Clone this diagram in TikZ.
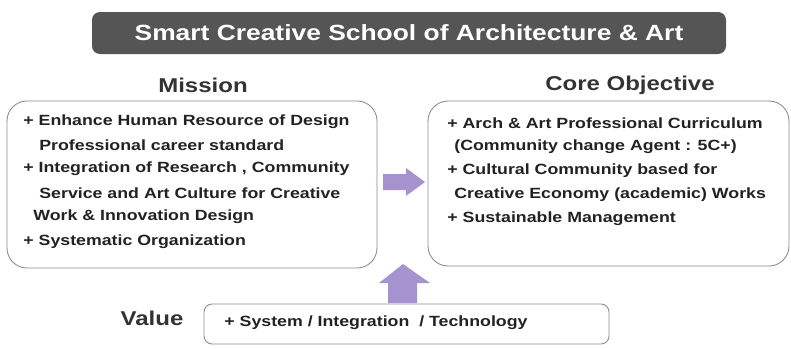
\documentclass[tikz,border=0pt]{standalone}
\usepackage{fontspec}
\setmainfont[FakeStretch=1.2]{Liberation Sans}
\tikzset{every picture/.style={line width=0.75pt}}
\tikzset{
	boxtext/.style={anchor=west, inner sep=0pt, text={rgb,255:red,34; green,34; blue,34}, font=\fontsize{14.8}{17}\selectfont\bfseries},
	headtext/.style={inner sep=0pt, text={rgb,255:red,51; green,51; blue,51}, font=\fontsize{20}{23}\selectfont\bfseries}}

\begin{document}
\begin{tikzpicture}[x=1pt,y=1pt,yscale=-1,xscale=1]
	\useasboundingbox (0,0) rectangle (791,348);

	%Shape: Rounded Rect [id:title bar]
	\draw [draw opacity=0][fill={rgb, 255:red, 85; green, 85; blue, 85 }, fill opacity=1, rounded corners=8] (92,12) rectangle (726,54);
	%Shape: Rounded Rect [id:mission box]
	\draw [color={rgb, 255:red, 140; green, 140; blue, 150 }, line width=0.9, rounded corners=20] (7,101) rectangle (377,268);
	%Shape: Rounded Rect [id:objective box]
	\draw [color={rgb, 255:red, 140; green, 140; blue, 150 }, line width=0.9, rounded corners=20] (428,101) rectangle (789,266);
	%Shape: Rounded Rect [id:value box]
	\draw [color={rgb, 255:red, 140; green, 140; blue, 150 }, line width=0.9, rounded corners=8] (204,304) rectangle (609,344);
	%Shape: Right Arrow [id:mission to objective]
	\draw [draw opacity=0][fill={rgb, 255:red, 165; green, 147; blue, 207 }, fill opacity=1] (383,174) -- (406,174) -- (406,168) -- (425,182) -- (406,196) -- (406,190) -- (383,190) -- cycle ;
	%Shape: Up Arrow [id:value to objective]
	\draw [draw opacity=0][fill={rgb, 255:red, 165; green, 147; blue, 207 }, fill opacity=1] (388,303) -- (388,283) -- (379,283) -- (403,264) -- (430,283) -- (417,283) -- (417,303) -- cycle ;

	% Text Node
	\draw (409,33) node [inner sep=0pt, text=white, font=\fontsize{22}{26}\selectfont\bfseries] (title) {Smart Creative School of Architecture \& Art};
	% Text Node
	\draw (203,85) node [headtext] (mission) {Mission};
	% Text Node
	\draw (630,85) node [headtext] (objective) {Core Objective};
	% Text Node
	\draw (152,318) node [headtext] (value) {Value};

	% Text Node
	\draw (23,122) node [boxtext] (m1) {+ Enhance Human Resource of Design};
	% Text Node
	\draw (39,145) node [boxtext] (m2) {Professional career standard};
	% Text Node
	\draw (23,169) node [boxtext] (m3) {+ Integration of Research , Community};
	% Text Node
	\draw (39,193) node [boxtext] (m4) {Service and Art Culture for Creative};
	% Text Node
	\draw (33,217) node [boxtext] (m5) {Work \& Innovation Design};
	% Text Node
	\draw (23,242) node [boxtext] (m6) {+ Systematic Organization};

	% Text Node
	\draw (447,123) node [boxtext] (o1) {+ Arch \& Art Professional Curriculum};
	% Text Node
	\draw (454,147) node [boxtext] (o2) {(Community change Agent : 5C+)};
	% Text Node
	\draw (447,171) node [boxtext] (o3) {+ Cultural Community based for};
	% Text Node
	\draw (454,195) node [boxtext] (o4) {Creative Economy (academic) Works};
	% Text Node
	\draw (447,219) node [boxtext] (o5) {+ Sustainable Management};

	% Text Node
	\draw (224,323) node [boxtext] (v1) {+ System / Integration \ / Technology};

\end{tikzpicture}
\end{document}
